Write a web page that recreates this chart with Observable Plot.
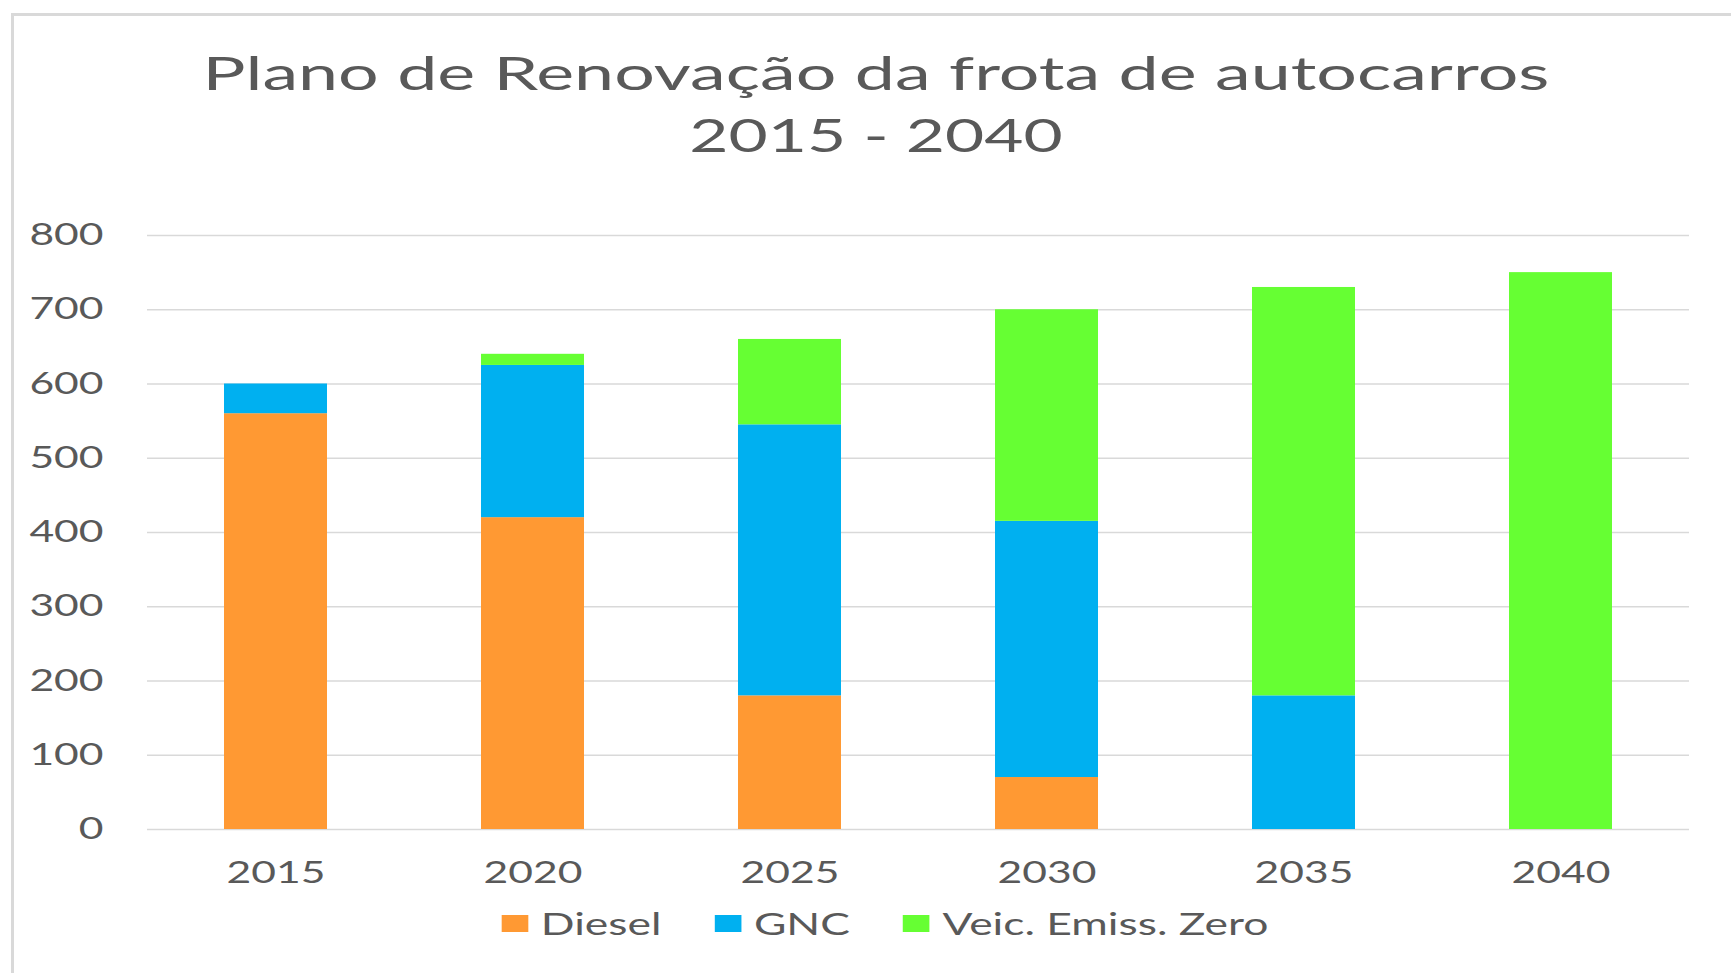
<!DOCTYPE html>
<html>
<head>
<meta charset="utf-8">
<script src="https://cdn.jsdelivr.net/npm/d3@7"></script>
<script src="https://cdn.jsdelivr.net/npm/@observablehq/plot@0.6"></script>
<style>
  html, body { margin: 0; padding: 0; background: #fff; }
  body { width: 1731px; height: 973px; overflow: hidden; position: relative; font-family: Lato, "Open Sans", sans-serif; color: #595959; }
  #frame { position: absolute; left: 11px; top: 13px; width: 1800px; height: 1000px; border-left: 3px solid #d9d9d9; border-top: 3px solid #d9d9d9; box-sizing: border-box; }
  .tl { position: absolute; left: 0; width: 1752px; text-align: center; font-size: 46px; line-height: 62px; white-space: nowrap; transform-origin: 876px 50%; }
  #t1 { top: 42px; transform: scaleX(1.56); }
  #t2 { top: 104px; transform: scaleX(1.47); }
  #chart { position: absolute; left: 0; top: 200px; }
  #legend { position: absolute; left: 0; width: 1770px; top: 905px; height: 36px; display: flex; justify-content: center; align-items: center; transform: scaleX(1.48); transform-origin: 885px 50%; font-size: 30px; line-height: 36px; white-space: nowrap; }
  .item { display: flex; align-items: center; margin: 0 18px; }
  .sw { width: 18px; height: 17px; margin-right: 8.5px; }
</style>
</head>
<body>
<div id="frame"></div>
<div class="tl" id="t1"></div>
<div class="tl" id="t2"></div>
<div id="chart"></div>
<div id="legend"></div>
<script>
// ---- data ----
const titleLines = ["Plano de Renovação da frota de autocarros", "2015 - 2040"];
const years = ["2015", "2020", "2025", "2030", "2035", "2040"];
const series = ["Diesel", "GNC", "Veic. Emiss. Zero"];
const colors = ["#FF9933", "#00B0F0", "#66FF33"];
const diesel = [560, 420, 180, 70, 0, 0];
const gnc = [40, 205, 365, 345, 180, 0];
const zero = [0, 15, 115, 285, 550, 750];
const yTicks = [0, 100, 200, 300, 400, 500, 600, 700, 800];

const values = [diesel, gnc, zero];
const rows = series.flatMap((s, j) => years.map((yr, i) => ({year: yr, series: s, value: values[j][i]})));

document.getElementById("t1").textContent = titleLines[0];
document.getElementById("t2").textContent = titleLines[1];

const K = 1.42;

const plot = Plot.plot({
  width: 1731,
  height: 699,
  marginTop: 35,
  marginBottom: 70,
  marginLeft: 147,
  marginRight: 42,
  style: {fontFamily: "Lato, 'Open Sans', sans-serif", fontSize: "30px", color: "#595959", background: "transparent", overflow: "visible"},
  x: {domain: years, paddingInner: 0.6, paddingOuter: 0.3, label: null, tickSize: 0, tickPadding: 32},
  y: {domain: [0, 800], ticks: yTicks, label: null, tickSize: 0, tickPadding: 44},
  color: {domain: series, range: colors},
  marks: [
    Plot.ruleY(yTicks, {stroke: "#d9d9d9", strokeWidth: 1.5}),
    Plot.barY(rows, {x: "year", y: "value", fill: "series"})
  ]
});

// stretch the text horizontally like the reference (about each label's anchor)
plot.querySelectorAll("text").forEach(t => {
  const x = parseFloat(t.getAttribute("x")) || 0;
  const tr = t.getAttribute("transform") || "";
  t.setAttribute("transform", `${tr} translate(${x} 0) scale(${K} 1) translate(${-x} 0)`);
});
document.getElementById("chart").appendChild(plot);

// legend
const lg = document.getElementById("legend");
series.forEach((s, i) => {
  const it = document.createElement("div");
  it.className = "item";
  const sw = document.createElement("div");
  sw.className = "sw";
  sw.style.background = colors[i];
  const tx = document.createElement("span");
  tx.textContent = s;
  it.appendChild(sw);
  it.appendChild(tx);
  lg.appendChild(it);
});
</script>
</body>
</html>
